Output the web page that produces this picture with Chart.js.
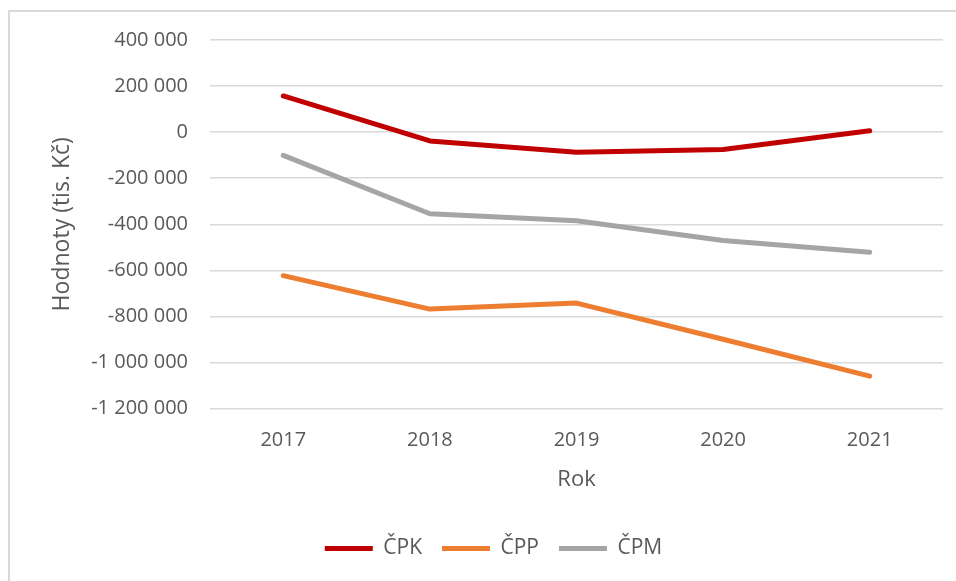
<!DOCTYPE html>
<html>
<head>
<meta charset="utf-8">
<script src="https://cdn.jsdelivr.net/npm/chart.js@4"></script>
<style>
  html, body { margin: 0; padding: 0; background: #ffffff; overflow: hidden; }
  #frame { position: absolute; left: 8px; top: 10px; width: 1000px; height: 1000px; border: 2px solid #d9d9d9; box-sizing: border-box; }
  #wrap { position: absolute; left: 0; top: 0; width: 956px; height: 581px; }
</style>
</head>
<body>
<div id="frame"></div>
<div id="wrap"><canvas id="c" width="956" height="581"></canvas></div>
<script>
const years = ["2017", "2018", "2019", "2020", "2021"];
const cpk = [157000, -38000, -87000, -75000, 6000];
const cpp = [-623000, -768000, -742000, -899000, -1059000];
const cpm = [-101000, -354000, -385000, -470000, -521000];
const seriesNames = ["ČPK", "ČPP", "ČPM"];
const seriesColors = ["#C00000", "#ED7D31", "#A5A5A5"];
const yMin = -1200000, yMax = 400000, yStep = 200000;

function fmt(v) {
  const neg = v < 0;
  const s = Math.abs(Math.round(v)).toString().replace(/\B(?=(\d{3})+(?!\d))/g, " ");
  return (neg ? "-" : "") + s;
}

const textColor = "#595959";
const fontFam = "'Open Sans', sans-serif";

const data = {
  labels: years,
  datasets: [cpk, cpp, cpm].map((vals, i) => ({
    label: seriesNames[i],
    data: vals,
    borderColor: seriesColors[i],
    backgroundColor: seriesColors[i],
    borderWidth: 5,
    borderCapStyle: "round",
    borderJoinStyle: "round",
    pointRadius: 0,
    tension: 0
  }))
};

new Chart(document.getElementById("c"), {
  type: "line",
  data: data,
  options: {
    responsive: false,
    animation: false,
    layout: { padding: { left: 44, right: 13, top: 40, bottom: 12 } },
    plugins: {
      tooltip: { enabled: false },
      legend: {
        position: "bottom",
        labels: {
          color: textColor,
          font: { family: fontFam, size: 21 },
          boxWidth: 48,
          boxHeight: 5,
          padding: 20,
          generateLabels: (chart) => Chart.defaults.plugins.legend.labels.generateLabels(chart).map(l => Object.assign(l, { lineWidth: 0 }))
        }
      }
    },
    scales: {
      x: {
        offset: true,
        grid: { display: false, drawTicks: false },
        border: { display: false },
        ticks: { color: textColor, font: { family: fontFam, size: 20 }, padding: 20 },
        title: { display: true, text: "Rok", color: textColor, font: { family: fontFam, size: 22 }, padding: { top: -6, bottom: 25 } }
      },
      y: {
        min: yMin,
        max: yMax,
        ticks: { stepSize: yStep, color: textColor, font: { family: fontFam, size: 20 }, padding: 22, callback: (v) => fmt(v) },
        grid: { color: "#d9d9d9", lineWidth: 1.5, drawTicks: false },
        border: { display: false },
        title: { display: true, text: "Hodnoty (tis. Kč)", color: textColor, font: { family: fontFam, size: 23 }, padding: { top: 5, bottom: 0 } },
        afterFit: (scale) => { scale.width = 166; }
      }
    }
  }
});
</script>
</body>
</html>
